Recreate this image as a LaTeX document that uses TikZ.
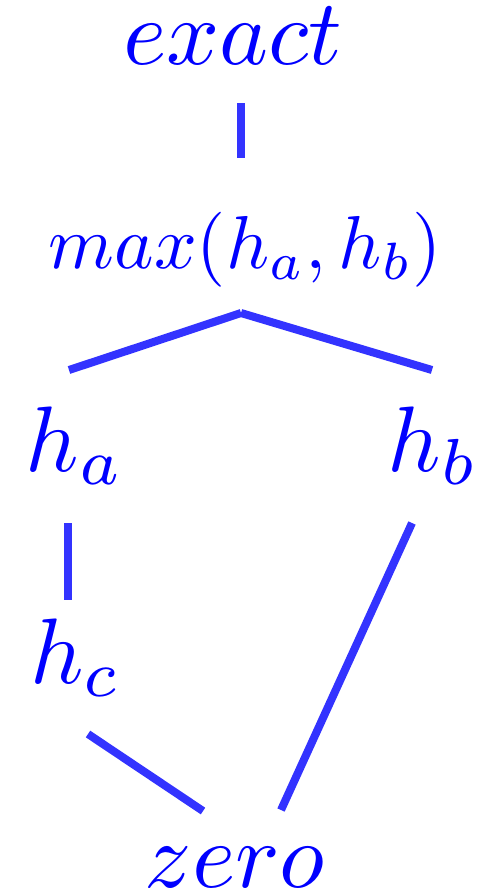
\documentclass[tikz,border=0pt]{standalone}
\usetikzlibrary{calc}

\begin{document}
\begin{tikzpicture}[x=1pt,y=-1pt]
\useasboundingbox (0,0) rectangle (478,892);
\tikzset{lbl/.style={anchor=base,inner sep=0pt,text=blue,scale=9.3},
  edge/.style={draw=blue!80,line width=8pt}}
\node[lbl] (exact) at (233,64) {$exact$};
\node[lbl,scale=7.5/9.3] (mx) at (245,268) {$max(h_a,h_b)$};
\node[lbl] (ha) at (75,471) {$h_a$};
\node[lbl] (hb) at (433,471) {$h_b$};
\node[lbl] (hc) at (76,683) {$h_c$};
\node[lbl] (zero) at (235,887) {$zero$};
\draw[edge] ($(exact.base)+(8,39)$) -- ($(mx.base)+(-4,-110)$);
\draw[edge] ($(mx.base)+(-4,45)$) -- ($(ha.base)+(-6,-101)$);
\draw[edge] ($(mx.base)+(-4,45)$) -- ($(hb.base)+(-1,-101)$);
\draw[edge] ($(ha.base)+(-7,52)$) -- ($(hc.base)+(-8,-83)$);
\draw[edge] ($(hc.base)+(12,51)$) -- ($(zero.base)+(-32,-76)$);
\draw[edge] ($(hb.base)+(-21,52)$) -- ($(zero.base)+(46,-77)$);
\end{tikzpicture}
\end{document}
